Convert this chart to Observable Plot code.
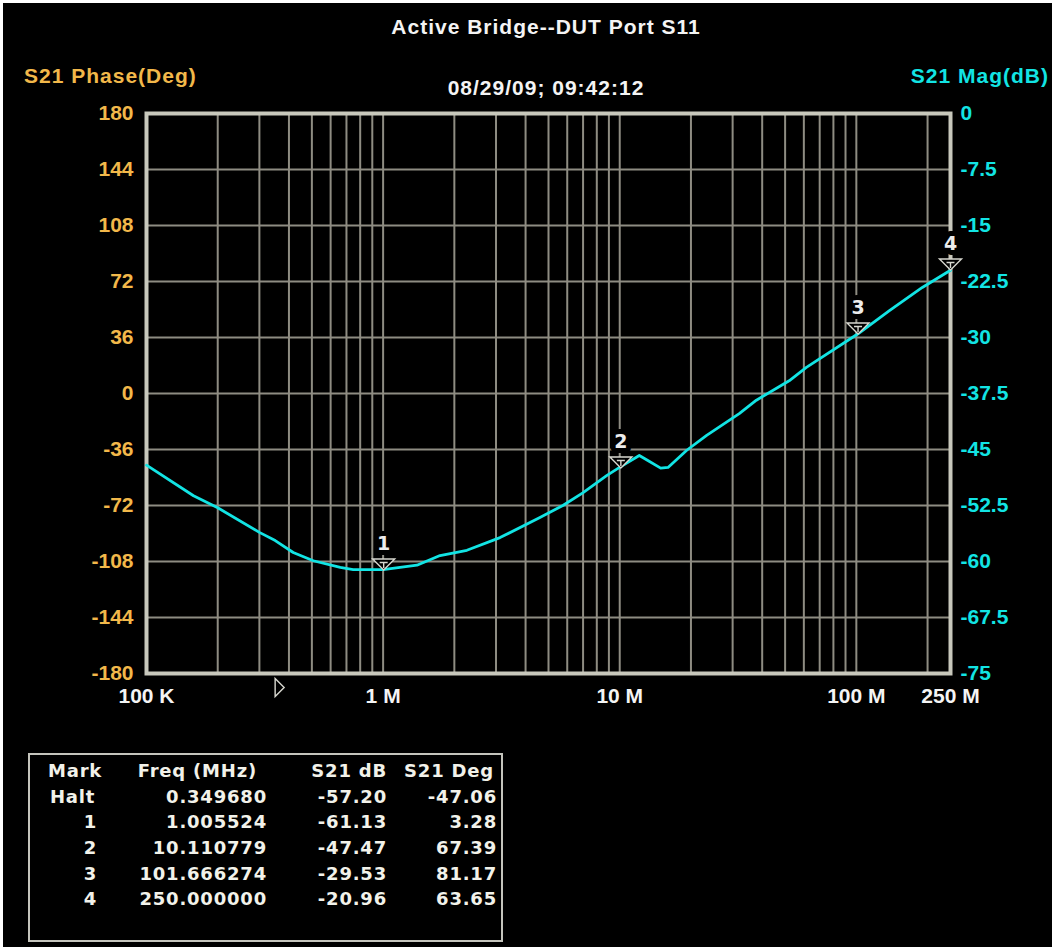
<!DOCTYPE html>
<html><head><meta charset="utf-8">
<script src="https://cdn.jsdelivr.net/npm/d3@7"></script>
<script src="https://cdn.jsdelivr.net/npm/@observablehq/plot@0.6"></script>
<style>
html,body{margin:0;padding:0;background:#000;}
body{width:1052px;height:947px;position:relative;overflow:hidden;font-family:"Liberation Sans",Arial,sans-serif;}
.t{position:absolute;font-weight:bold;white-space:nowrap;line-height:1;font-size:21px;letter-spacing:1px;}
#chart{position:absolute;left:0;top:100px;}
#tbl{position:absolute;left:28px;top:753px;width:471px;height:185px;border:2px solid #c4c4bc;}
.c{position:absolute;font-family:"DejaVu Sans",sans-serif;font-weight:bold;font-size:18px;letter-spacing:0.8px;color:#f2f2ea;line-height:1;white-space:nowrap;}
#wt{position:absolute;left:0;top:0;width:1052px;height:3px;background:#fff;z-index:10;}
#wl{position:absolute;left:0;top:0;width:3px;height:947px;background:#fff;z-index:10;}
</style></head><body>
<div id="wt"></div><div id="wl"></div>
<div class="t" style="left:546px;top:16px;transform:translateX(-50%);color:#f4f4f4;">Active Bridge--DUT Port S11</div>
<div class="t" style="left:24px;top:65px;color:#f2b84a;">S21 Phase(Deg)</div>
<div class="t" style="left:546px;top:77px;transform:translateX(-50%);color:#f4f4f4;">08/29/09; 09:42:12</div>
<div class="t" style="right:3px;top:65px;color:#12e4e4;">S21 Mag(dB)</div>
<div id="chart"></div>
<div id="tbl"></div>
<script>
// ---- data ----
const freqHz = [1e5, 1.58e5, 2.0e5, 3.0e5, 3.5e5, 4.17e5, 5.07e5, 6.59e5, 7.47e5, 1.0e6, 1.39e6, 1.74e6, 2.26e6, 3.12e6, 4.6e6, 5.07e6, 5.75e6, 6.98e6, 8.8e6, 1.01e7, 1.21e7, 1.32e7, 1.49e7, 1.6e7, 1.92e7, 2.33e7, 3.2e7, 3.78e7, 5.2e7, 6.15e7, 1.0167e8, 1.38e8, 1.9e8, 2.5e8];
const magDb  = [-47.1, -51.2, -52.8, -56.1, -57.2, -58.8, -59.9, -60.8, -61.1, -61.1, -60.5, -59.2, -58.5, -56.8, -54.1, -53.4, -52.5, -50.8, -48.5, -47.3, -45.8, -46.5, -47.5, -47.4, -45.1, -43.1, -40.2, -38.4, -35.8, -34.0, -29.5, -26.4, -23.3, -21.0];

const markerIds = ["1", "2", "3", "4"];
const markerFreqMHz = [1.005524, 10.110779, 101.666274, 250.0];
const markerDb = [-61.13, -47.47, -29.53, -20.96];
const haltFreqMHz = 0.349680;

const magTicks = [0, -7.5, -15, -22.5, -30, -37.5, -45, -52.5, -60, -67.5, -75];
const phaseTickLabels = ["180", "144", "108", "72", "36", "0", "-36", "-72", "-108", "-144", "-180"];
const freqTicks = [1e5, 1e6, 1e7, 1e8, 2.5e8];
const freqTickLabels = ["100 K", "1 M", "10 M", "100 M", "250 M"];
const decades = [1e5, 1e6, 1e7, 1e8];
const minorMult = [1, 2, 3, 4, 5, 6, 7, 8, 9];

const tableHeader = ["Mark", "Freq (MHz)", "S21 dB", "S21 Deg"];
const tableMark = ["Halt", "1", "2", "3", "4"];
const tableFreq = ["0.349680", "1.005524", "10.110779", "101.666274", "250.000000"];
const tableDb = ["-57.20", "-61.13", "-47.47", "-29.53", "-20.96"];
const tableDeg = ["-47.06", "3.28", "67.39", "81.17", "63.65"];

// ---- colours ----
const CYAN = "#12e4e4", ORANGE = "#f2b84a", GRID = "#8e8c82", FRAME = "#c8c8bc", MARK = "#d8d8d0";

const curve = freqHz.map((f, i) => ({f, db: magDb[i]}));
const markers = markerIds.map((id, i) => ({id, f: markerFreqMHz[i] * 1e6, db: markerDb[i]}));
const gridXTicks = decades.flatMap(d => minorMult.map(m => m * d)).filter(v => v > 1e5 && v < 2.5e8);

const markerSymbol = {draw(ctx) {
  ctx.moveTo(-11, -11); ctx.lineTo(11, -11); ctx.lineTo(0, 0); ctx.closePath();
  ctx.moveTo(-4, -7.5); ctx.lineTo(4, -7.5);
  ctx.moveTo(0, -7.5); ctx.lineTo(0, -2);
}};
const haltSymbol = {draw(ctx) {
  ctx.moveTo(0, -9); ctx.lineTo(9, 0); ctx.lineTo(0, 9); ctx.closePath();
}};

const chart = Plot.plot({
  width: 1052, height: 640,
  marginLeft: 146, marginRight: 102, marginTop: 13, marginBottom: 67,
  style: {background: "black", fontFamily: "Liberation Sans, Arial, sans-serif", fontSize: "21px", fontWeight: "bold"},
  x: {type: "log", domain: [1e5, 2.5e8]},
  y: {domain: [-75, 0]},
  marks: [
    Plot.gridX({ticks: gridXTicks, stroke: GRID, strokeWidth: 2, strokeOpacity: 1}),
    Plot.gridY({ticks: magTicks.slice(1, -1), stroke: GRID, strokeWidth: 2, strokeOpacity: 1}),
    Plot.frame({stroke: FRAME, strokeWidth: 4}),
    Plot.line(curve, {x: "f", y: "db", stroke: CYAN, strokeWidth: 2.8}),
    Plot.dot(markers, {x: "f", y: "db", symbol: markerSymbol, r: 5, stroke: MARK, fill: "black", strokeWidth: 1.4}),
    Plot.text(markers, {x: "f", y: "db", text: "id", dy: -26, fill: "#ececec", stroke: "black", strokeWidth: 10, paintOrder: "stroke", fontSize: 19, fontFamily: "DejaVu Sans, sans-serif"}),
    Plot.dot([haltFreqMHz * 1e6], {x: d => d, y: () => -75, symbol: haltSymbol, r: 5, stroke: MARK, fill: "black", strokeWidth: 1.4, dy: 14}),
    Plot.axisY({anchor: "left", ticks: magTicks, tickFormat: d => phaseTickLabels[magTicks.indexOf(d)], tickSize: 0, tickPadding: 13, color: ORANGE, label: null}),
    Plot.axisY({anchor: "right", ticks: magTicks, tickFormat: d => String(d), tickSize: 0, tickPadding: 10, color: CYAN, label: null}),
    Plot.axisX({anchor: "bottom", ticks: freqTicks, tickFormat: d => freqTickLabels[freqTicks.indexOf(d)], tickSize: 0, tickPadding: 15, color: "#f4f4f4", label: null})
  ]
});
document.getElementById("chart").appendChild(chart);

// ---- marker table ----
const tbl = document.getElementById("tbl");
const rowsY = [16, 42, 67, 93, 119, 144]; // cell centers relative to box
function cell(text, y, opts) {
  const d = document.createElement("div");
  d.className = "c";
  d.textContent = text;
  d.style.top = (y - 9) + "px";
  if (opts.left != null) d.style.left = opts.left + "px";
  if (opts.right != null) d.style.right = opts.right + "px";
  tbl.appendChild(d);
}
cell(tableHeader[0], rowsY[0], {left: 18});
cell(tableHeader[1], rowsY[0], {right: 471 - 227});
cell(tableHeader[2], rowsY[0], {right: 471 - 357});
cell(tableHeader[3], rowsY[0], {right: 471 - 464});
tableMark.forEach((m, i) => {
  const y = rowsY[i + 1];
  if (i === 0) cell(m, y, {left: 20}); else cell(m, y, {right: 471 - 67});
  cell(tableFreq[i], y, {right: 471 - 237});
  cell(tableDb[i], y, {right: 471 - 357});
  cell(tableDeg[i], y, {right: 471 - 467});
});
</script>
</body></html>
